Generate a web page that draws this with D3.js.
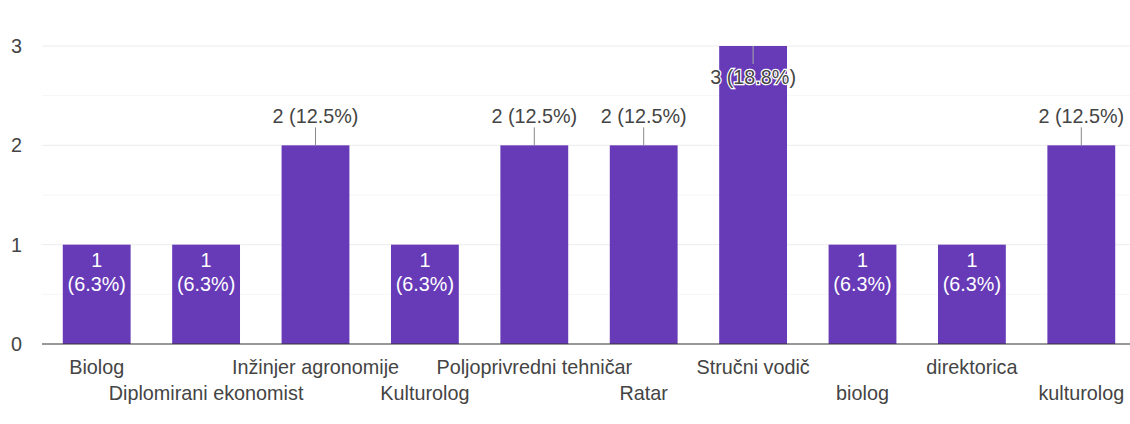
<!DOCTYPE html>
<html>
<head>
<meta charset="utf-8">
<script src="https://cdn.jsdelivr.net/npm/d3@7"></script>
<style>
  body { margin: 0; background: #fff; }
  text { font-family: "Liberation Sans", Arial, sans-serif; }
</style>
</head>
<body>
<svg id="chart"></svg>
<script>
// data
const categories = [
  "Biolog", "Diplomirani ekonomist", "Inžinjer agronomije", "Kulturolog",
  "Poljoprivredni tehničar", "Ratar", "Stručni vodič", "biolog",
  "direktorica", "kulturolog"
];
const counts = [1, 1, 2, 1, 2, 2, 3, 1, 1, 2];
const percents = ["6.3%", "6.3%", "12.5%", "6.3%", "12.5%", "12.5%", "18.8%", "6.3%", "6.3%", "12.5%"];
const yTicks = [0, 1, 2, 3];
const yMinor = [0.5, 1.5, 2.5];

const width = 1130;
const height = 424;
const margin = { top: 46, right: -6, bottom: 80, left: 42 };
const fs = "19.8px";

const svg = d3.select("#chart").attr("width", width).attr("height", height);

const data = categories.map((c, i) => ({ name: c, value: counts[i], pct: percents[i] }));

const x = d3.scaleBand()
  .domain(categories)
  .range([margin.left, width - margin.right])
  .paddingInner(0.38)
  .paddingOuter(0.19);

const y = d3.scaleLinear()
  .domain([0, 3])
  .range([height - margin.bottom, margin.top]);

// minor grid
svg.append("g")
  .selectAll("line")
  .data(yMinor)
  .join("line")
  .attr("x1", margin.left)
  .attr("x2", width)
  .attr("y1", d => y(d))
  .attr("y2", d => y(d))
  .attr("stroke", "#f6f6f6")
  .attr("stroke-width", 1);

// major grid
svg.append("g")
  .selectAll("line")
  .data(yTicks.filter(d => d > 0))
  .join("line")
  .attr("x1", margin.left)
  .attr("x2", width)
  .attr("y1", d => y(d))
  .attr("y2", d => y(d))
  .attr("stroke", "#ececec")
  .attr("stroke-width", 1);

// y tick labels
svg.append("g")
  .selectAll("text")
  .data(yTicks)
  .join("text")
  .attr("x", 22)
  .attr("y", d => y(d))
  .attr("dy", "0.35em")
  .attr("text-anchor", "end")
  .attr("fill", "#444")
  .style("font-size", fs)
  .text(d => d);

// bars
svg.append("g")
  .selectAll("rect")
  .data(data)
  .join("rect")
  .attr("x", d => x(d.name))
  .attr("y", d => y(d.value))
  .attr("width", x.bandwidth())
  .attr("height", d => y(0) - y(d.value))
  .attr("fill", "#673ab7");

// baseline
svg.append("line")
  .attr("x1", margin.left)
  .attr("x2", width)
  .attr("y1", y(0))
  .attr("y2", y(0))
  .attr("stroke", "#333")
  .attr("stroke-width", 1.2);

// x labels, alternating rows
svg.append("g")
  .selectAll("text")
  .data(data)
  .join("text")
  .attr("x", d => x(d.name) + x.bandwidth() / 2)
  .attr("y", (d, i) => y(0) + (i % 2 === 0 ? 30 : 56))
  .attr("text-anchor", "middle")
  .attr("fill", "#444")
  .style("font-size", fs)
  .text(d => d.name);

// value labels
const cx = d => x(d.name) + x.bandwidth() / 2;

// value 1: white text inside bar, two lines
const inside = data.filter(d => d.value === 1);
const tIn = svg.append("g")
  .selectAll("text")
  .data(inside)
  .join("text")
  .attr("text-anchor", "middle")
  .attr("fill", "#fff")
  .style("font-size", fs);
tIn.append("tspan")
  .attr("x", cx)
  .attr("y", d => y(d.value) + 22)
  .text(d => d.value);
tIn.append("tspan")
  .attr("x", cx)
  .attr("y", d => y(d.value) + 46)
  .text(d => `(${d.pct})`);

// value 2: gray text above bar with leader
const above = data.filter(d => d.value === 2);
svg.append("g")
  .selectAll("line")
  .data(above)
  .join("line")
  .attr("x1", cx)
  .attr("x2", cx)
  .attr("y1", d => y(d.value))
  .attr("y2", d => y(d.value) - 18)
  .attr("stroke", "#888");
svg.append("g")
  .selectAll("text")
  .data(above)
  .join("text")
  .attr("x", cx)
  .attr("y", d => y(d.value) - 22)
  .attr("text-anchor", "middle")
  .attr("fill", "#444")
  .style("font-size", fs)
  .text(d => `${d.value} (${d.pct})`);

// value 3: leader inside bar top, gray text with white halo
const top3 = data.filter(d => d.value === 3);
svg.append("g")
  .selectAll("line")
  .data(top3)
  .join("line")
  .attr("x1", cx)
  .attr("x2", cx)
  .attr("y1", d => y(d.value))
  .attr("y2", d => y(d.value) + 18)
  .attr("stroke", "#aaa");
svg.append("g")
  .selectAll("text")
  .data(top3)
  .join("text")
  .attr("x", cx)
  .attr("y", d => y(d.value) + 38)
  .attr("text-anchor", "middle")
  .attr("fill", "#444")
  .attr("stroke", "#fff")
  .attr("stroke-width", 2.5)
  .attr("paint-order", "stroke")
  .style("font-size", fs)
  .text(d => `${d.value} (${d.pct})`);
</script>
</body>
</html>
